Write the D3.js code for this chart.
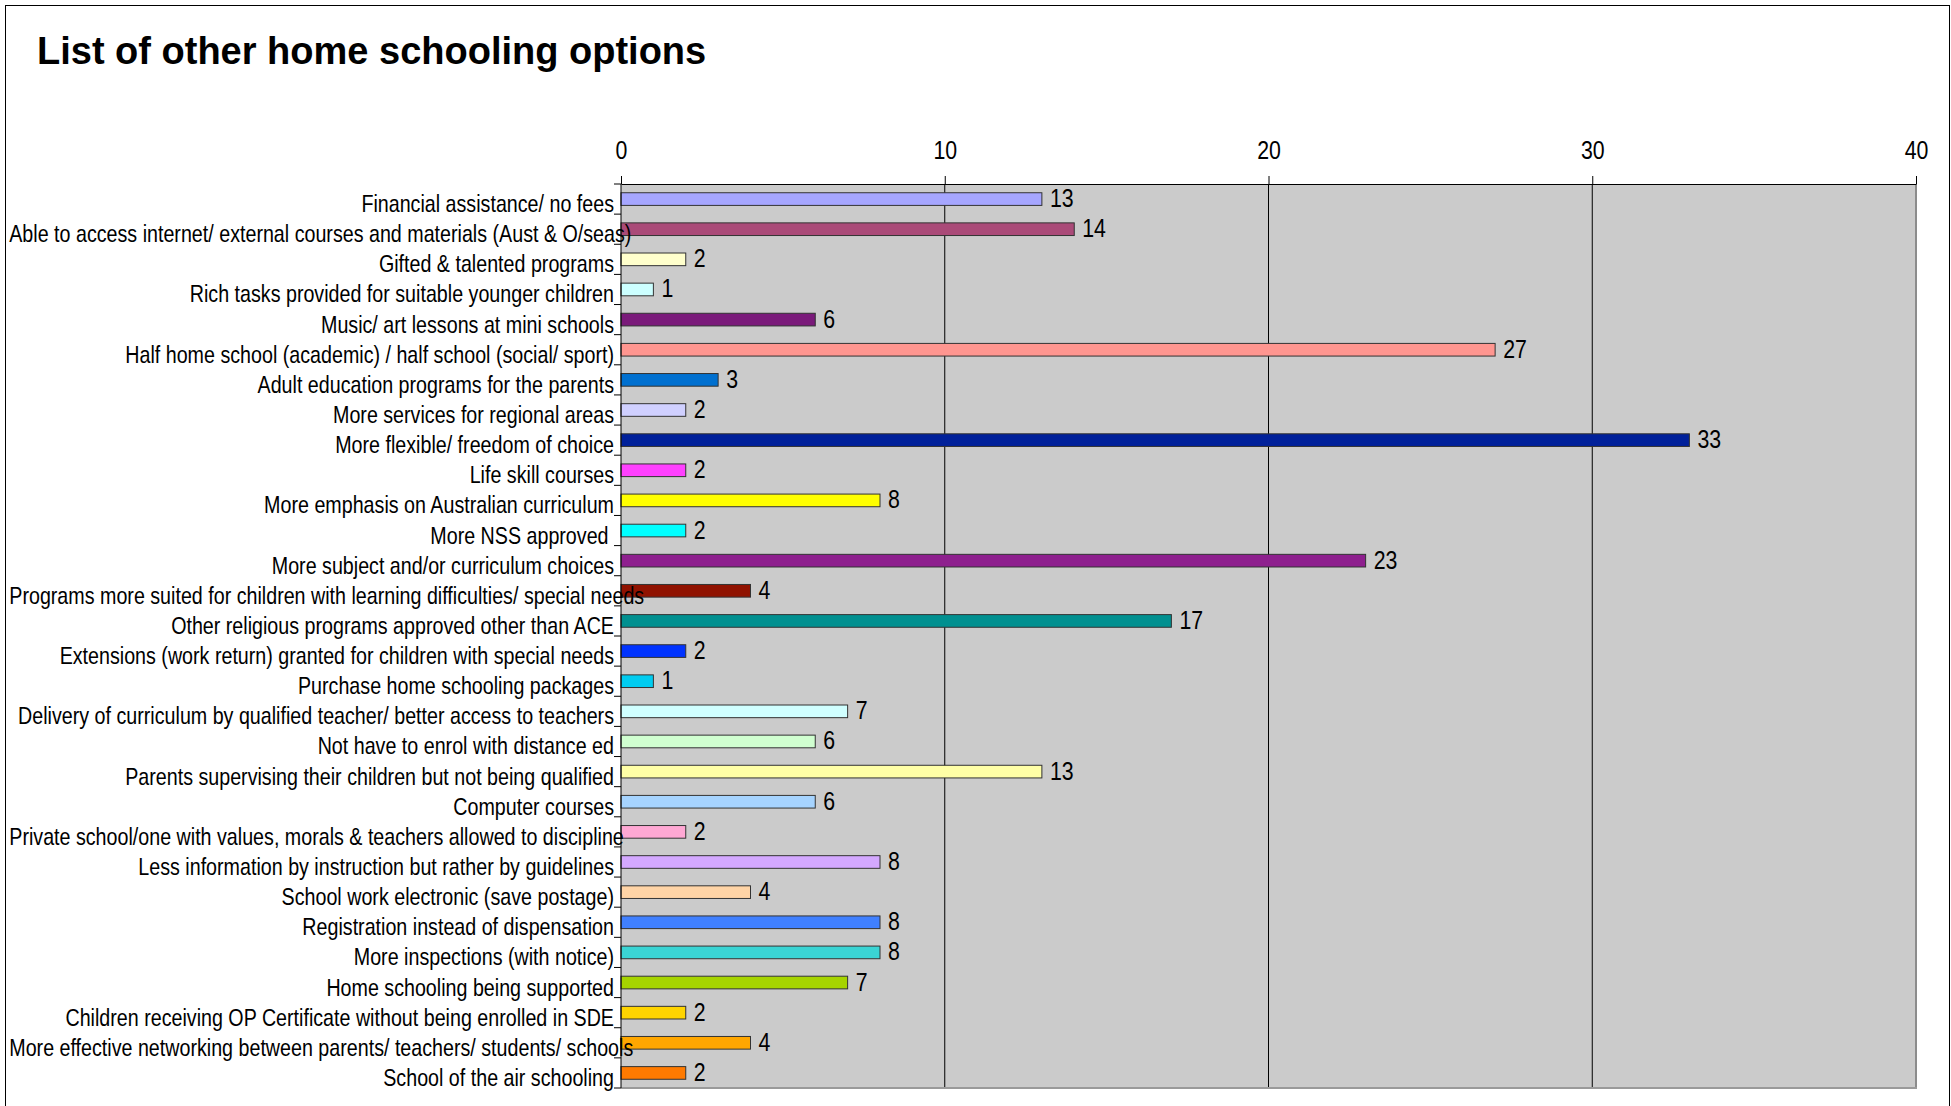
<!DOCTYPE html>
<html>
<head>
<meta charset="utf-8">
<script src="https://cdn.jsdelivr.net/npm/d3@7"></script>
<style>
  body { margin: 0; background: #ffffff; }
  .cat_label { font-family: "Liberation Sans", Arial, sans-serif; font-size: 24px; white-space: pre; }
  .val_label { font-family: "Liberation Sans", Arial, sans-serif; font-size: 26px; }
  .tick text { font-family: "Liberation Sans", Arial, sans-serif; font-size: 26px; }
</style>
</head>
<body>
<script>
var categories = [
    "Financial assistance/ no fees",
    "Able to access internet/ external courses and materials (Aust & O/seas)",
    "Gifted & talented programs",
    "Rich tasks provided for suitable younger children",
    "Music/ art lessons at mini schools",
    "Half home school (academic) / half school (social/ sport)",
    "Adult education programs for the parents",
    "More services for regional areas",
    "More flexible/ freedom of choice",
    "Life skill courses",
    "More emphasis on Australian curriculum",
    "More NSS approved ",
    "More subject and/or curriculum choices",
    "Programs more suited for children with learning difficulties/ special needs",
    "Other religious programs approved other than ACE",
    "Extensions (work return) granted for children with special needs",
    "Purchase home schooling packages",
    "Delivery of curriculum by qualified teacher/ better access to teachers",
    "Not have to enrol with distance ed",
    "Parents supervising their children but not being qualified",
    "Computer courses",
    "Private school/one with values, morals & teachers allowed to discipline",
    "Less information by instruction but rather by guidelines",
    "School work electronic (save postage)",
    "Registration instead of dispensation",
    "More inspections (with notice)",
    "Home schooling being supported",
    "Children receiving OP Certificate without being enrolled in SDE",
    "More effective networking between parents/ teachers/ students/ schools",
    "School of the air schooling"
];
var values = [13, 14, 2, 1, 6, 27, 3, 2, 33, 2, 8, 2, 23, 4, 17, 2, 1, 7, 6, 13, 6, 2, 8, 4, 8, 8, 7, 2, 4, 2];
var colors = ["#a6a6ff", "#aa4a78", "#ffffcc", "#ccffff", "#7a1a7a", "#ff9690", "#0070d0", "#d0d0ff",
              "#00209a", "#ff40ff", "#ffff00", "#00ffff", "#8e1f8e", "#901200", "#009090", "#0033ff",
              "#00ccf0", "#d0ffff", "#d0ffd0", "#ffffa6", "#a6d4ff", "#ffa8d4", "#d4a8ff", "#ffd4a6",
              "#4080ff", "#3ad4d4", "#a6d400", "#ffd400", "#ffa600", "#ff7a00"];
var xTicks = [0, 10, 20, 30, 40];
var gridTicks = [10, 20, 30];
var title = "List of other home schooling options";

var W = 1951, H = 1106;
var margin = {top: 184, left: 621, right: 35, bottom: 18};
var width = W - margin.left - margin.right;
var height = H - margin.top - margin.bottom;
var narrow = 0.82; // the original text is a condensed face
var labelMinX = 9;  // long labels are pushed right so they start here

var svg = d3.select("body").append("svg")
    .attr("width", W)
    .attr("height", H);

// outer frame
svg.append("rect")
    .attr("x", 5.5).attr("y", 5.5)
    .attr("width", W - 7).attr("height", H + 20)
    .attr("fill", "none")
    .attr("stroke", "#000")
    .attr("stroke-width", 1);

svg.append("text")
    .attr("x", 37)
    .attr("y", 64)
    .style("font-family", "'Liberation Sans', Arial, sans-serif")
    .style("font-weight", "bold")
    .style("font-size", "38px")
    .text(title);

var g = svg.append("g").attr("transform", "translate(" + [margin.left, margin.top] + ")");

var xScale = d3.scaleLinear().domain([0, 40]).range([0, width]);
var yScale = d3.scaleBand().domain(categories).range([0, height]).paddingInner(0.58).paddingOuter(0.29);
var step = yScale.step();
var bandTop = function(d){ return yScale(d) - step * yScale.paddingInner() / 2; };

// plot background
g.append("rect")
    .attr("x", 0).attr("y", 0)
    .attr("width", width).attr("height", height)
    .attr("fill", "#cbcbcb");

// gridlines
g.selectAll(".grid")
    .data(gridTicks)
    .enter().append("line")
    .attr("class", "grid")
    .attr("x1", function(d){ return xScale(d); })
    .attr("x2", function(d){ return xScale(d); })
    .attr("y1", 0).attr("y2", height)
    .attr("stroke", "#000").attr("stroke-width", 1);

// right and bottom edges of the plot
g.append("line")
    .attr("x1", xScale(40)).attr("x2", xScale(40))
    .attr("y1", 0).attr("y2", height + 1)
    .attr("stroke", "#8c8c8c").attr("stroke-width", 2);
g.append("line")
    .attr("x1", 0).attr("x2", xScale(40) + 1)
    .attr("y1", height).attr("y2", height)
    .attr("stroke", "#9a9a9a").attr("stroke-width", 2);

// bars
g.selectAll(".bar")
    .data(categories)
    .enter().append("rect")
    .attr("class", "bar")
    .attr("x", 0)
    .attr("y", function(d){ return yScale(d); })
    .attr("width", function(d, i){ return xScale(values[i]); })
    .attr("height", yScale.bandwidth())
    .attr("fill", function(d, i){ return colors[i]; })
    .attr("stroke", "#333")
    .attr("stroke-width", 1);

// value labels
g.selectAll(".val_label")
    .data(categories)
    .enter().append("text")
    .attr("class", "val_label")
    .attr("transform", function(d, i){
        var x = xScale(values[i]) + 8;
        var y = yScale(d) + yScale.bandwidth() / 2 + 8;
        return "translate(" + [x, y] + ") scale(" + narrow + ",1)";
    })
    .text(function(d, i){ return values[i]; });

// top axis
var xAxis = d3.axisTop(xScale).tickValues(xTicks).tickSize(8).tickSizeOuter(0).tickPadding(17);
var ax = g.append("g").attr("class", "xaxis").call(xAxis);
ax.select(".domain").attr("stroke", "#000");
ax.selectAll(".tick line").attr("stroke", "#000");
ax.selectAll(".tick text").attr("fill", "#000")
    .attr("transform", "scale(" + narrow + ",1)");

// left axis line and ticks at band edges
g.append("line")
    .attr("x1", 0).attr("x2", 0)
    .attr("y1", 0).attr("y2", height)
    .attr("stroke", "#000").attr("stroke-width", 1);
g.selectAll(".ytick")
    .data(categories.concat(["__end"]))
    .enter().append("line")
    .attr("class", "ytick")
    .attr("x1", -7).attr("x2", 0)
    .attr("y1", function(d){ return d == "__end" ? height : bandTop(d); })
    .attr("y2", function(d){ return d == "__end" ? height : bandTop(d); })
    .attr("stroke", "#000").attr("stroke-width", 1);

// category labels, right aligned; the longest ones run over the axis like in the original
g.selectAll(".cat_label")
    .data(categories)
    .enter().append("text")
    .attr("class", "cat_label")
    .attr("text-anchor", "end")
    .text(function(d){ return d; })
    .attr("transform", function(d){
        var w = this.getComputedTextLength() * narrow;
        var x = Math.max(-7, labelMinX - margin.left + w);
        var y = yScale(d) + yScale.bandwidth() / 2 + 13;
        return "translate(" + [x, y] + ") scale(" + narrow + ",1)";
    });
</script>
</body>
</html>
